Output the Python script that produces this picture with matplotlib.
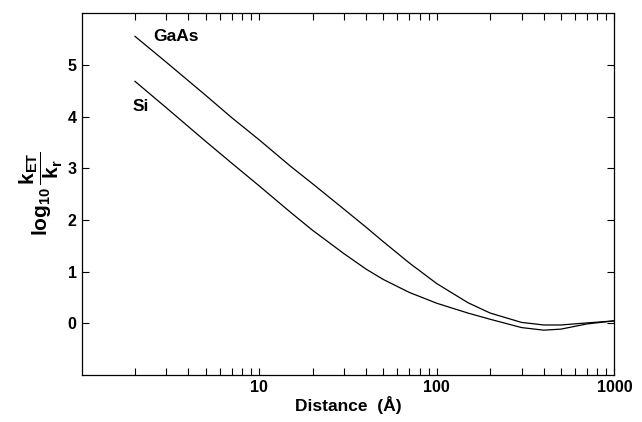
import numpy as np
import matplotlib
matplotlib.use('Agg')
import matplotlib.pyplot as plt
from matplotlib.ticker import FixedLocator, NullFormatter, LogLocator

# values
distance = [2, 3, 5, 7, 10, 15, 20, 30, 40, 50, 70, 100, 150, 200, 300, 400, 500, 700, 1000]
gaas = [5.55, 5.05, 4.41, 3.98, 3.55, 3.04, 2.70, 2.21, 1.86, 1.58, 1.17, 0.77, 0.40, 0.20,
        0.02, -0.03, -0.03, 0.01, 0.05]
si = [4.68, 4.17, 3.52, 3.10, 2.66, 2.15, 1.80, 1.35, 1.05, 0.85, 0.60, 0.39, 0.20, 0.08,
      -0.08, -0.13, -0.11, -0.01, 0.05]
yticks = [0, 1, 2, 3, 4, 5]
xticks = [10, 100, 1000]

plt.rcParams['font.family'] = ['Liberation Sans', 'DejaVu Sans']
plt.rcParams['mathtext.fontset'] = 'custom'
plt.rcParams['mathtext.rm'] = 'Liberation Sans:bold'
plt.rcParams['mathtext.it'] = 'Liberation Sans:bold'
plt.rcParams['mathtext.bf'] = 'Liberation Sans:bold'

fig = plt.figure(figsize=(6.42, 4.22), dpi=100)
ax = fig.add_axes([0.127, 0.111, 0.83, 0.858])

ax.plot(distance, gaas, color='black', lw=0.9)
ax.plot(distance, si, color='black', lw=0.9)

ax.set_xscale('log')
ax.set_xlim(1, 1000)
ax.set_ylim(-1, 6)

ax.xaxis.set_major_locator(FixedLocator(xticks))
ax.set_xticklabels([str(t) for t in xticks], fontweight='bold', fontsize=11.5)
ax.xaxis.set_minor_locator(LogLocator(base=10, subs=np.arange(2, 10)))
ax.xaxis.set_minor_formatter(NullFormatter())
ax.set_yticks(yticks)
ax.set_yticklabels([str(t) for t in yticks], fontweight='bold', fontsize=11.5)

ax.tick_params(which='both', direction='in', top=True, right=True, length=5, width=0.8)
for s in ax.spines.values():
    s.set_linewidth(0.9)

ax.text(2.53, 5.54, 'GaAs', fontsize=12.5, fontweight='bold', va='center', ha='left')
ax.text(1.93, 4.19, 'Si', fontsize=12.5, fontweight='bold', va='center', ha='left')

ax.set_xlabel('Distance  (Å)', fontsize=12.5, fontweight='bold', labelpad=1)
ax.set_ylabel(r'$\mathrm{log_{10}}\,\dfrac{k_{ET}}{k_r}$', fontsize=15, labelpad=2)

fig.savefig('out.png', dpi=100)
